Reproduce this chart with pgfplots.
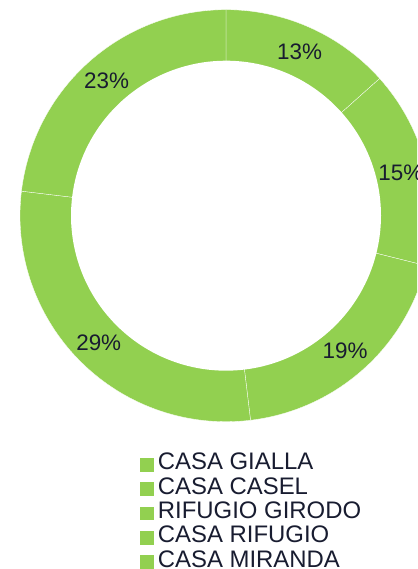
\documentclass[border=0pt]{standalone}
\usepackage{pgfplots}
\usepackage{pgfplotstable}
\pgfplotsset{compat=1.18}
\usepackage{fontspec}
\setmainfont{Liberation Sans}
\definecolor{ringgreen}{RGB}{146,208,80}
\definecolor{navytext}{RGB}{24,28,48}

% share of each hut (%), label as printed
\pgfplotstableread[col sep=comma]{
name,value,label
CASA GIALLA,13.4,13\%
CASA CASEL,15.5,15\%
RIFUGIO GIRODO,19.2,19\%
CASA RIFUGIO,28.8,29\%
CASA MIRANDA,23.1,23\%
}\donut

% angles: start at 12 o'clock, clockwise
\pgfplotstablecreatecol[create col/expr accum={\pgfmathaccuma + \thisrow{value}}{0}]{cum}\donut
\pgfplotstablecreatecol[create col/expr={90-3.6*(\thisrow{cum}-\thisrow{value})}]{start}\donut
\pgfplotstablecreatecol[create col/expr={90-3.6*\thisrow{cum}}]{end}\donut
\pgfplotstablecreatecol[create col/expr={90-3.6*(\thisrow{cum}-\thisrow{value}/2)}]{mid}\donut

\newcommand\getang[2]{%
  \pgfplotstablegetelem{#1}{start}\of\donut
  \expandafter\xdef\csname s#2\endcsname{\pgfplotsretval}%
  \pgfplotstablegetelem{#1}{end}\of\donut
  \expandafter\xdef\csname e#2\endcsname{\pgfplotsretval}}
\getang{0}{A}\getang{1}{B}\getang{2}{C}\getang{3}{D}\getang{4}{E}

\begin{document}
\begin{tikzpicture}[x=1bp,y=1bp]
\useasboundingbox (0,0) rectangle (417,569);
\clip (0,0) rectangle (417,569);
\begin{axis}[
  at={(226bp,353.3bp)}, anchor=center,
  scale only axis, width=412bp, height=412bp,
  xmin=-206, xmax=206, ymin=-206, ymax=206,
  hide axis, clip=false,
  legend image code/.code={\fill[ringgreen] (0bp,-6.3bp) rectangle (13bp,6.3bp);},
  legend cell align=left,
  legend style={
    at={(axis description cs:0.291,-0.074)}, anchor=north west,
    draw=none, fill=none, inner sep=0pt, row sep=0pt, column sep=2.5bp,
    font=\fontsize{24}{24}\selectfont,
    nodes={inner sep=2bp, text=navytext, text height=15.5bp, text depth=4.8bp},
  },
]
\pgfplotsset{slice/.style={fill=ringgreen, draw=white, line width=0.3pt,
  data cs=polar, samples=90}}
\addplot[slice, domain=\eA:\sA] ({x},{206}) -- (axis cs:0,0) -- cycle;
\addlegendentry{CASA GIALLA}
\addplot[slice, domain=\eB:\sB] ({x},{206}) -- (axis cs:0,0) -- cycle;
\addlegendentry{CASA CASEL}
\addplot[slice, domain=\eC:\sC] ({x},{206}) -- (axis cs:0,0) -- cycle;
\addlegendentry{RIFUGIO GIRODO}
\addplot[slice, domain=\eD:\sD] ({x},{206}) -- (axis cs:0,0) -- cycle;
\addlegendentry{CASA RIFUGIO}
\addplot[slice, domain=\eE:\sE] ({x},{206}) -- (axis cs:0,0) -- cycle;
\addlegendentry{CASA MIRANDA}
% hole
\addplot[forget plot, fill=white, draw=none, data cs=polar, domain=0:360, samples=180]
  ({x},{155}) -- cycle;
% percentage labels
\addplot[forget plot, draw=none, mark=none, data cs=polar,
  nodes near coords, point meta=explicit symbolic,
  nodes near coords style={anchor=center, text=navytext,
    font=\fontsize{22.5}{22.5}\selectfont}]
  table[x=mid, y expr=180, meta=label] {\donut};
\end{axis}
\end{tikzpicture}
\end{document}
